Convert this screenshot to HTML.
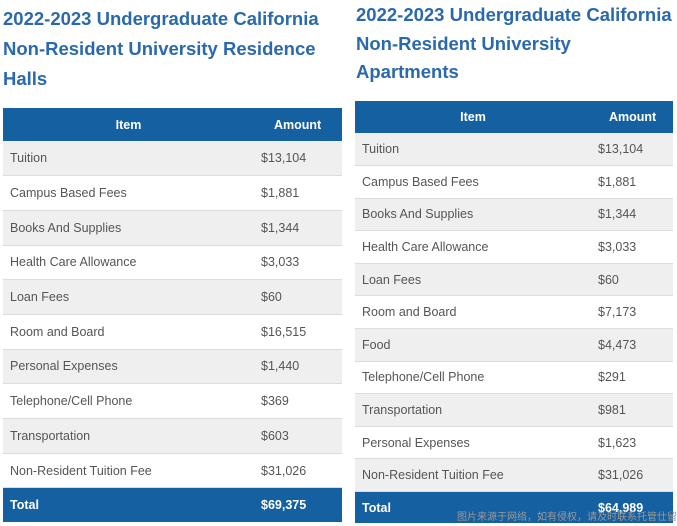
<!DOCTYPE html>
<html><head><meta charset="utf-8"><style>
body{margin:0;width:677px;height:526px;background:#fff;position:relative;overflow:hidden;font-family:"Liberation Sans","Noto Sans CJK SC",sans-serif}
.t{position:absolute;color:#2a69ad;font-weight:bold;font-size:18.5px;white-space:nowrap}
.tb{position:absolute;border-collapse:collapse;table-layout:fixed}
.tb td,.tb th{padding:0;font-size:12.5px;color:#555;border-bottom:1px solid #dcdcdc}
.tb th{background:#1560a0;color:#fff;font-weight:bold;font-size:12.5px;border:none}
.tb tr.g td{background:#efefef}
.tb tr.tot td{background:#1560a0;color:#fff;font-weight:bold;border:none}
.wm{position:absolute;left:457px;top:508px;font-size:10px;color:#999;white-space:nowrap}
</style></head><body>
<div class="t" style="left:3px;top:4px;line-height:30px">2022-2023 Undergraduate California<br>Non-Resident University Residence<br>Halls</div>
<div class="t" style="left:356px;top:1px;line-height:28.5px">2022-2023 Undergraduate California<br>Non-Resident University<br>Apartments</div>

<table class="tb" style="left:3px;top:108px;width:339px">
<colgroup><col style="width:251px"><col style="width:88px"></colgroup>
<tr style="height:33px"><th style="padding-left:0">Item</th><th style="text-align:left;padding-left:20px">Amount</th></tr>
<tbody id="lb"></tbody>
</table>

<table class="tb" style="left:355px;top:101px;width:318px">
<colgroup><col style="width:236px"><col style="width:82px"></colgroup>
<tr style="height:32px"><th>Item</th><th style="text-align:left;padding-left:18px">Amount</th></tr>
<tbody id="rb"></tbody>
</table>

<div class="wm">图片来源于网络，如有侵权，请及时联系托管仕留学删除</div>
<script>
const leftItems=["Tuition","Campus Based Fees","Books And Supplies","Health Care Allowance","Loan Fees","Room and Board","Personal Expenses","Telephone/Cell Phone","Transportation","Non-Resident Tuition Fee"];
const leftAmounts=["$13,104","$1,881","$1,344","$3,033","$60","$16,515","$1,440","$369","$603","$31,026"];
const leftTotal="$69,375";
const rightItems=["Tuition","Campus Based Fees","Books And Supplies","Health Care Allowance","Loan Fees","Room and Board","Food","Telephone/Cell Phone","Transportation","Personal Expenses","Non-Resident Tuition Fee"];
const rightAmounts=["$13,104","$1,881","$1,344","$3,033","$60","$7,173","$4,473","$291","$981","$1,623","$31,026"];
const rightTotal="$64,989";
function build(id,items,amts,total,h,pl,pa){
  const tb=document.getElementById(id);
  items.forEach((it,i)=>{
    const tr=document.createElement('tr');
    
    
    if(i%2===0)tr.className='g';
    tr.style.height=h+'px';
    tr.innerHTML='<td style="padding-left:'+pl+'px">'+it+'</td><td style="padding-left:'+pa+'px">'+amts[i]+'</td>';
    tb.appendChild(tr);
  });
  const tr=document.createElement('tr');
  
  
  tr.className='tot';tr.style.height=(h-1)+'px';
  tr.innerHTML='<td style="padding-left:'+pl+'px">Total</td><td style="padding-left:'+pa+'px">'+total+'</td>';
  tb.appendChild(tr);
}
build('lb',leftItems,leftAmounts,leftTotal,34.7,7,7);
build('rb',rightItems,rightAmounts,rightTotal,32.6,7,7);
</script>
</body></html>
